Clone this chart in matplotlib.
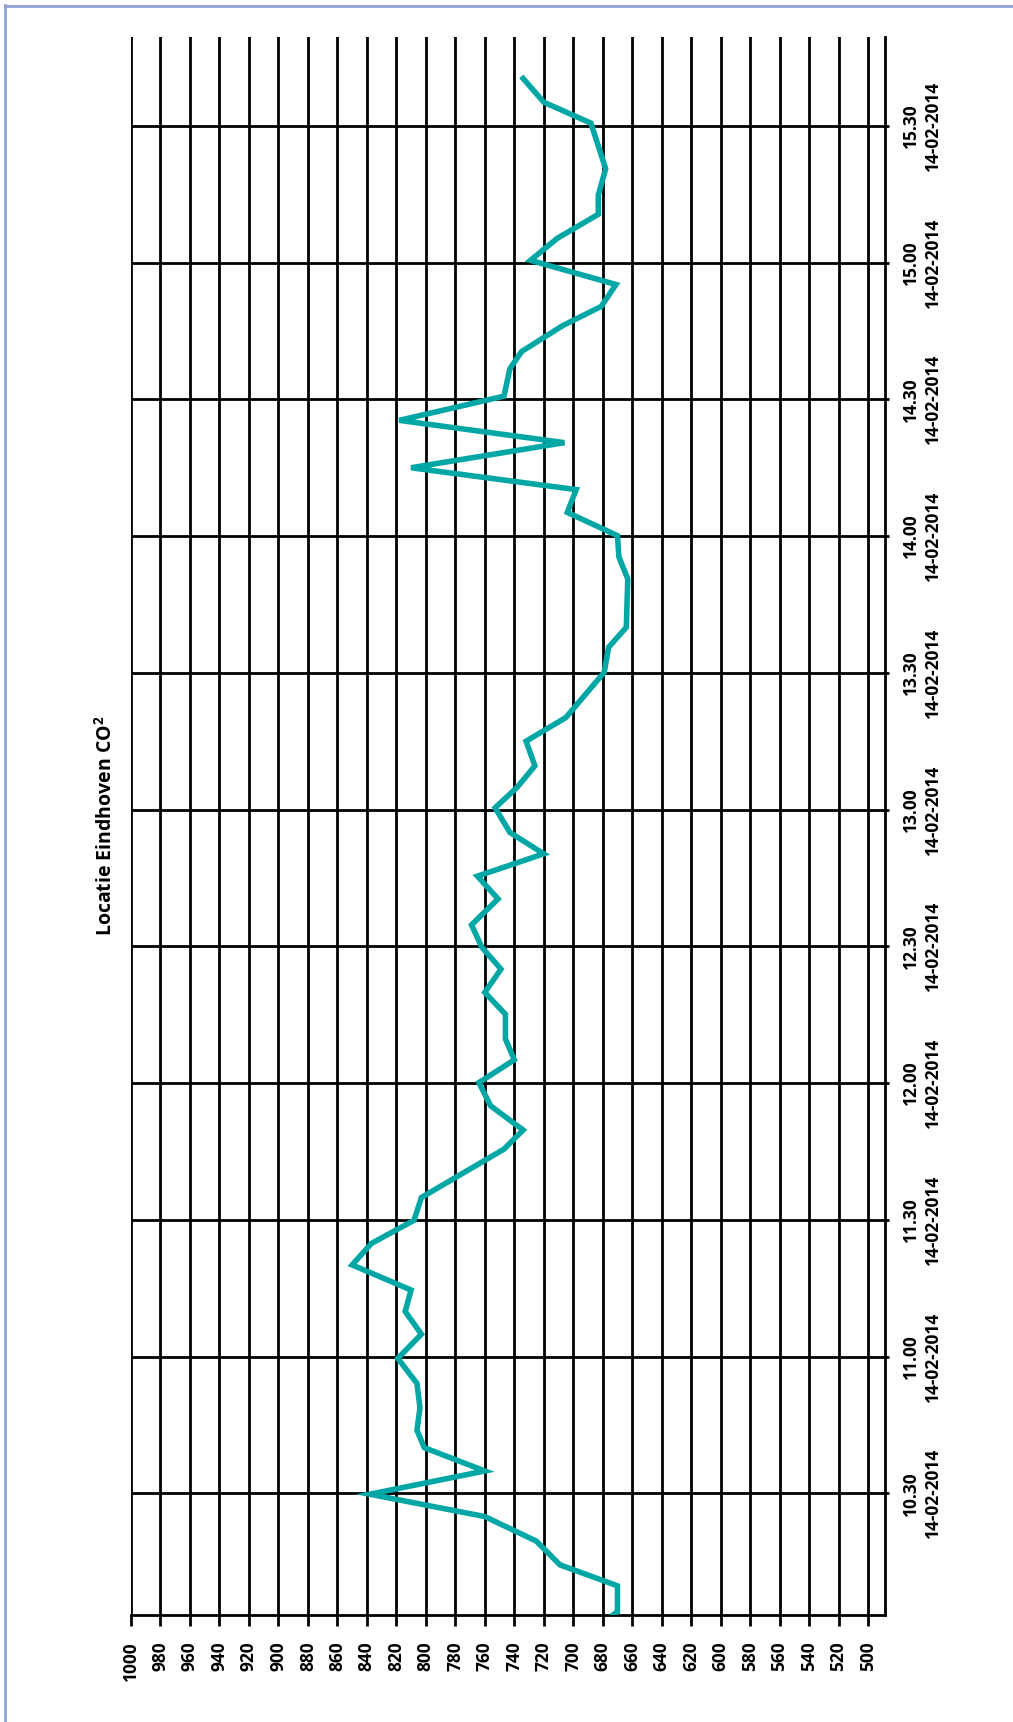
import matplotlib
matplotlib.use('Agg')
import matplotlib.pyplot as plt
import matplotlib.transforms as mtransforms
from matplotlib.lines import Line2D

plt.rcParams['font.family'] = ['Open Sans', 'DejaVu Sans']
plt.rcParams['font.weight'] = 'bold'
plt.rcParams['mathtext.fontset'] = 'custom'
plt.rcParams['mathtext.rm'] = 'Open Sans:bold'
plt.rcParams['mathtext.bf'] = 'Open Sans:bold'

# meettijden in minuten na 10.00 uur (14-02-2014)
tijd = [3.3, 4.0, 9.7, 14.3, 19.5, 24.9, 29.8, 34.9, 40.0, 43.8, 48.8, 54.1,
        59.6, 64.9, 69.9, 74.6, 80.1, 84.8, 89.9, 94.9, 105.5, 109.7, 115.0,
        120.1, 125.1, 129.7, 135.1, 139.9, 145.0, 149.8, 154.7, 160.4, 165.4,
        170.3, 175.0, 180.4, 184.9, 189.6, 195.0, 200.2, 210.1, 215.6, 220.0,
        230.6, 235.4, 240.1, 245.2, 250.2, 255.0, 260.5, 265.4, 270.7, 276.7,
        280.5, 286.2, 290.4, 295.2, 300.5, 305.3, 310.6, 314.8, 320.6, 330.6,
        335.2, 340.4]

# CO2 waarden (ppm)
co2 = [673, 670, 670, 709, 725, 760, 838, 760, 801, 806, 804, 806,
       819, 803, 814, 810, 850, 837, 808, 803, 747, 734, 756,
       764, 740, 746, 746, 760, 749, 762, 769, 751, 765,
       720, 743, 753, 738, 726, 732, 705, 679, 676, 664,
       663, 669, 670, 704, 698, 810, 706, 818, 747, 743,
       735, 707, 681, 671, 729, 711, 683, 683, 678, 688,
       720, 734]

tijd_ticks = [30, 60, 90, 120, 150, 180, 210, 240, 270, 300, 330]
tijd_labels = ['10.30', '11.00', '11.30', '12.00', '12.30', '13.00',
               '13.30', '14.00', '14.30', '15.00', '15.30']
datum = '14-02-2014'
co2_ticks = list(range(1000, 499, -20))

W, H = 1013, 1722
fig = plt.figure(figsize=(W / 100, H / 100), dpi=100)
ax = fig.add_axes([131 / W, (H - 1615) / H, (885 - 131) / W, (1615 - 37) / H])

ax.plot(co2, tijd, color='#00a7a5', lw=4.0, solid_joinstyle='miter', zorder=3)

ax.set_xlim(1000, 488.5)
ax.set_ylim(tijd[0], 349.5)

ax.set_xticks(co2_ticks)
ax.set_xticklabels([str(v) for v in co2_ticks], rotation=90, fontsize=12.5,
                   fontweight='bold')
ax.yaxis.tick_right()
ax.set_yticks(tijd_ticks)
ax.set_yticklabels([t + '\n' + datum for t in tijd_labels], rotation=90,
                   fontsize=12.5, fontweight='bold', multialignment='center',
                   linespacing=1.3, va='center')
# labels staan iets boven de lijn
schuif = mtransforms.ScaledTranslation(0, 14 / 100, fig.dpi_scale_trans)
for lab in ax.get_yticklabels():
    lab.set_transform(lab.get_transform() + schuif)

ax.grid(True, color='black', lw=2.0)
ax.set_axisbelow(True)
for s in ['top', 'left']:
    ax.spines[s].set_visible(False)
for s in ['right', 'bottom']:
    ax.spines[s].set_linewidth(2.0)
ax.tick_params(axis='x', length=7.7, width=2.0, pad=11.5)
ax.tick_params(axis='y', length=3, width=2.0, pad=9)

fig.text(106 / W, 1 - 826 / H, r'Locatie Eindhoven CO$^{2}$', rotation=90,
         ha='center', va='center', fontsize=14, fontweight='bold')

# lichtblauwe rand links en boven
fig.add_artist(Line2D([4.5 / W, 4.5 / W], [0, 1 - 4.5 / H], color='#8ea2d6', lw=2))
fig.add_artist(Line2D([4.5 / W, 1], [1 - 5.5 / H, 1 - 5.5 / H], color='#8ea2d6', lw=2))

fig.savefig('out.png', dpi=100)
